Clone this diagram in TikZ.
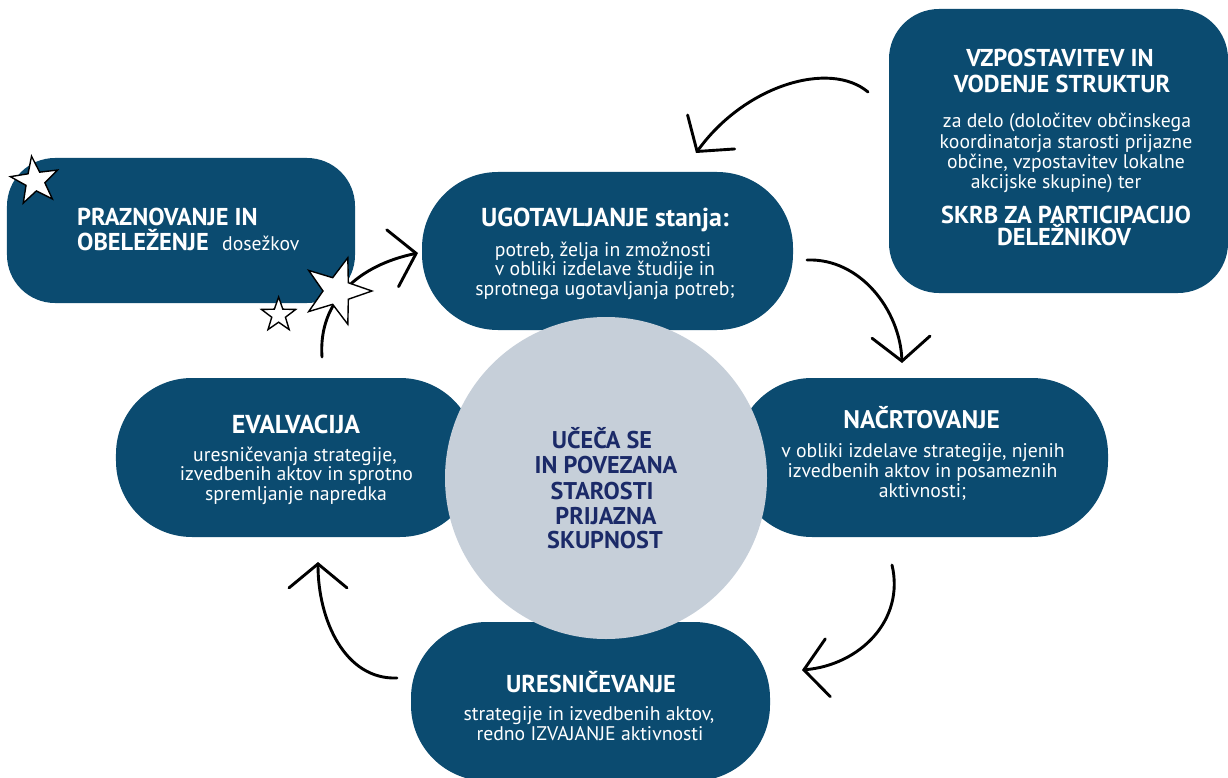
\documentclass[tikz,border=0pt]{standalone}
\usepackage{fontspec}
\setmainfont{PT Sans}
\usetikzlibrary{shapes.geometric,arrows.meta}
\definecolor{boxblue}{RGB}{11,75,112}
\definecolor{circfill}{RGB}{198,207,217}
\definecolor{navy}{RGB}{27,42,104}
\begin{document}
\begin{tikzpicture}[x=1bp,y=-1bp,
  box/.style={fill=boxblue, draw=none, inner sep=0, rounded corners=#1},
  ttl/.style={font=\bfseries\fontsize{25}{26}\selectfont, text=white, anchor=base, inner sep=0},
  bod/.style={font=\fontsize{19.8}{20}\selectfont, text=white, anchor=base, inner sep=0},
  ctr/.style={font=\bfseries\fontsize{24.3}{25}\selectfont, text=navy, anchor=base, inner sep=0},
  arr/.style={line width=2.9bp, line cap=round, line join=round, draw=black,
     -{Straight Barb[length=24bp,width=58bp,line cap=round]}},
  starry/.style={star, star points=5, star point ratio=2.5, draw=black, fill=white,
     line width=1.4bp, inner sep=0, line join=miter}
]
\useasboundingbox (0,0) rectangle (1228,778);
\fill[white] (0,0) rectangle (1228,778);

% boxes
\node[box=50bp, minimum width=339bp, minimum height=284bp] (struct) at (1058.5,151) {};
\node[box=48bp, minimum width=348bp, minimum height=145bp] (praz) at (181,230.5) {};
\node[box=76bp, minimum width=371bp, minimum height=158bp] (ugot) at (607.5,251) {};
\node[box=76bp, minimum width=360bp, minimum height=159bp] (eval) at (296,457.5) {};
\node[box=76bp, minimum width=372bp, minimum height=159bp] (nacr) at (922,457.5) {};
\node[box=76bp, minimum width=359bp, minimum height=159bp] (ures) at (590.5,701.5) {};

% centre circle
\node[circle, fill=circfill, draw=none, minimum size=322bp, inner sep=0] (core) at (606,478) {};

% texts: struct
\node[ttl, font=\bfseries\fontsize{24.5}{26}\selectfont] (s1) at (1060,66.7) {VZPOSTAVITEV IN};
\node[ttl, font=\bfseries\fontsize{24.5}{26}\selectfont] (s2) at (1062,93) {VODENJE STRUKTUR};
\node[bod] (s3) at (1067,127) {za delo (določitev občinskega};
\node[bod] (s4) at (1066,148) {koordinatorja starosti prijazne};
\node[bod] (s5) at (1066,168) {občine, vzpostavitev lokalne};
\node[bod] (s6) at (1056,188) {akcijske skupine) ter};
\node[ttl, font=\bfseries\fontsize{24.5}{26}\selectfont] (s7) at (1066,223) {SKRB ZA PARTICIPACIJO};
\node[ttl, font=\bfseries\fontsize{24.5}{26}\selectfont] (s8) at (1064,245) {DELEŽNIKOV};

% praznovanje
\node[ttl, anchor=base west, font=\bfseries\fontsize{24.5}{26}\selectfont] (p1) at (77,225) {PRAZNOVANJE IN};
\node[ttl, anchor=base west, font=\bfseries\fontsize{24.5}{26}\selectfont] (p2) at (77,250) {OBELEŽENJE};
\node[bod, anchor=base west] (p3) at (222,250) {dosežkov};

% ugotavljanje
\node[ttl, font=\bfseries\fontsize{26}{26}\selectfont] (u1) at (605,226.7) {UGOTAVLJANJE stanja:};
\node[bod] (u2) at (603,256) {potreb, želja in zmožnosti};
\node[bod] (u3) at (605,275.5) {v obliki izdelave študije in};
\node[bod] (u4) at (605,295) {sprotnega ugotavljanja potreb;};

% evalvacija
\node[ttl, font=\bfseries\fontsize{26}{26}\selectfont] (e1) at (296,433) {EVALVACIJA};
\node[bod] (e2) at (295,461.7) {uresničevanja strategije,};
\node[bod] (e3) at (296.5,480.5) {izvedbenih aktov in sprotno};
\node[bod] (e4) at (296,500) {spremljanje napredka};

% nacrtovanje
\node[ttl, font=\bfseries\fontsize{25.5}{26}\selectfont] (n1) at (921.7,428) {NAČRTOVANJE};
\node[bod] (n2) at (923,457) {v obliki izdelave strategije, njenih};
\node[bod] (n3) at (922.5,477) {izvedbenih aktov in posameznih};
\node[bod] (n4) at (922.5,497) {aktivnosti;};

% uresnicevanje
\node[ttl, font=\bfseries\fontsize{24.5}{26}\selectfont] (r1) at (591,692) {URESNIČEVANJE};
\node[bod] (r2) at (589,720) {strategije in izvedbenih aktov,};
\node[bod] (r3) at (590,740) {redno IZVAJANJE aktivnosti};

% centre text
\node[ctr] (c1) at (602,448) {UČEČA SE};
\node[ctr] (c2) at (606,473) {IN POVEZANA};
\node[ctr] (c3) at (602,499) {STAROSTI};
\node[ctr] (c4) at (606,524) {PRIJAZNA};
\node[ctr] (c5) at (605,548) {SKUPNOST};

% arrow end points
\coordinate (aS) at (868,92);   \coordinate (aE) at (696,153);
\coordinate (bS) at (807,260);  \coordinate (bE) at (902,363);
\coordinate (cS) at (892,565);  \coordinate (cE) at (802,670);
\coordinate (dS) at (397,678);  \coordinate (dE) at (318,562);
\coordinate (eS) at (322,357);  \coordinate (eE) at (418,253);

\draw[arr] (aS) .. controls (830,60) and (745,85) .. (aE);
\draw[arr] (bS) .. controls (860,258) and (900,310) .. (bE);
\draw[arr] (cS) .. controls (905,620) and (860,665) .. (cE);
\draw[arr] (dS) .. controls (345,680) and (318,620) .. (dE);
\draw[arr] (eS) .. controls (318,300) and (360,265) .. (eE);

% stars
\node[starry, minimum size=50bp, rotate=8] (st1) at (35,181) {};
\node[starry, minimum size=36bp] (st2) at (278.6,315) {};
\node[starry, minimum size=70bp, rotate=-18] (st3) at (337,291) {};
\end{tikzpicture}
\end{document}
